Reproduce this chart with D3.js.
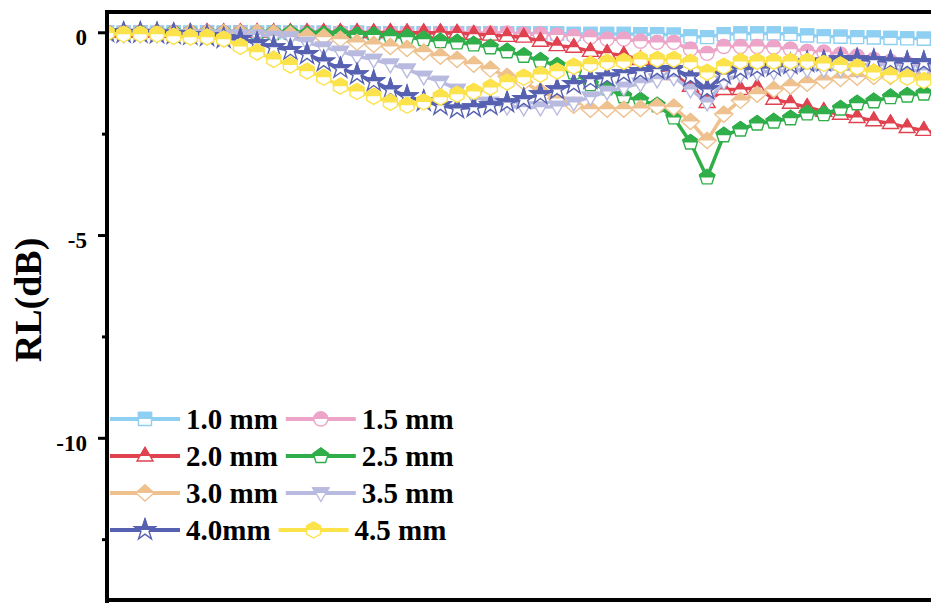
<!DOCTYPE html>
<html>
<head>
<meta charset="UTF-8">
<title>RL curves</title>
<script src="https://d3js.org/d3.v7.min.js"></script>
<style>
  body { margin: 0; background: #fff; }
  svg { display: block; font-family: "Liberation Serif", "Times New Roman", serif; font-weight: bold; }
</style>
</head>
<body>
<svg id="chart"></svg>
<script>
const width = 931, height = 603;

// sample index along the x axis (axis itself is cut off in the picture)
const points = d3.range(51);

const rl10 = [0, -0.01, 0, -0.01, 0, -0.01, 0, -0.01, 0, -0.01,
  0, -0.01, -0.01, -0.01, -0.02, -0.01, -0.02, -0.02, -0.02, -0.02,
  -0.02, -0.02, -0.03, -0.02, -0.03, -0.03, -0.03, -0.03, -0.04, -0.04,
  -0.04, -0.04, -0.05, -0.05, -0.06, -0.1, -0.12, -0.05, -0.03, -0.03,
  -0.03, -0.04, -0.08, -0.1, -0.11, -0.12, -0.13, -0.14, -0.15, -0.16, -0.17];
const rl15 = [0, 0, 0, -0.01, 0, -0.01, 0, -0.01, 0, -0.01,
  -0.01, -0.01, -0.01, -0.01, -0.01, -0.02, -0.02, -0.02, -0.02, -0.02,
  -0.02, -0.02, -0.02, -0.02, -0.02, -0.05, -0.05, -0.07, -0.1, -0.12,
  -0.17, -0.17, -0.22, -0.25, -0.25, -0.42, -0.52, -0.35, -0.35, -0.35,
  -0.37, -0.42, -0.47, -0.49, -0.54, -0.59, -0.67, -0.72, -0.77, -0.81, -0.86];
const rl20 = [0, 0, 0, 0, 0, 0, 0, 0, 0, 0,
  0, 0, 0, 0, 0, 0, -0.01, 0, -0.01, -0.01,
  -0.01, -0.02, -0.05, -0.07, -0.1, -0.12, -0.22, -0.33, -0.37, -0.47,
  -0.52, -0.57, -0.67, -0.84, -1.04, -1.33, -1.73, -1.41, -1.41, -1.36,
  -1.65, -1.75, -1.85, -1.95, -2.02, -2.1, -2.18, -2.25, -2.35, -2.42, -2.5];
const rl25 = [0, -0.01, -0.01, -0.01, -0.01, -0.01, -0.02, -0.02, -0.02, -0.02,
  -0.02, -0.02, -0.05, -0.05, -0.05, -0.07, -0.07, -0.1, -0.12, -0.17,
  -0.22, -0.25, -0.3, -0.37, -0.47, -0.58, -0.7, -0.82, -0.99, -1.28,
  -1.38, -1.58, -1.68, -1.8, -2.1, -2.72, -3.58, -2.54, -2.4, -2.25,
  -2.2, -2.12, -2.0, -2.02, -1.88, -1.75, -1.7, -1.6, -1.56, -1.51, -1.48];
const rl30 = [0, 0, -0.01, 0, -0.01, 0, -0.01, -0.01, -0.01, -0.01,
  -0.02, -0.05, -0.1, -0.12, -0.17, -0.25, -0.3, -0.35, -0.4, -0.49,
  -0.59, -0.67, -0.79, -0.91, -1.09, -1.23, -1.46, -1.63, -1.8, -1.9,
  -1.9, -1.9, -1.88, -1.83, -1.85, -2.2, -2.67, -2.02, -1.68, -1.53,
  -1.41, -1.33, -1.26, -1.19, -1.14, -1.11, -1.09, -1.09, -1.09, -1.06, -1.06];
const rl35 = [-0.05, -0.05, -0.05, -0.05, -0.07, -0.07, -0.07, -0.08, -0.07, -0.07,
  -0.1, -0.12, -0.25, -0.37, -0.47, -0.59, -0.67, -0.79, -0.91, -1.09,
  -1.21, -1.41, -1.58, -1.73, -1.83, -1.85, -1.85, -1.83, -1.73, -1.6,
  -1.46, -1.36, -1.26, -1.16, -1.11, -1.41, -1.73, -1.21, -1.04, -0.99,
  -0.96, -0.94, -0.91, -0.91, -0.91, -0.91, -0.91, -0.91, -0.94, -0.94, -0.96];
const rl40 = [0, -0.02, -0.02, -0.03, -0.05, -0.07, -0.1, -0.15, -0.17, -0.27,
  -0.37, -0.44, -0.54, -0.72, -0.89, -1.04, -1.21, -1.41, -1.58, -1.7,
  -1.8, -1.88, -1.85, -1.8, -1.73, -1.65, -1.53, -1.41, -1.28, -1.16,
  -1.09, -1.01, -0.96, -0.91, -0.91, -1.09, -1.41, -1.04, -0.91, -0.86,
  -0.84, -0.79, -0.74, -0.72, -0.67, -0.67, -0.69, -0.72, -0.74, -0.74, -0.77];
const rl45 = [-0.02, -0.05, -0.05, -0.05, -0.1, -0.12, -0.12, -0.17, -0.35, -0.49,
  -0.67, -0.81, -0.96, -1.11, -1.33, -1.46, -1.58, -1.73, -1.8, -1.72,
  -1.6, -1.53, -1.46, -1.36, -1.23, -1.11, -1.04, -0.96, -0.84, -0.79,
  -0.74, -0.72, -0.67, -0.67, -0.67, -0.74, -0.99, -0.84, -0.72, -0.72,
  -0.72, -0.72, -0.72, -0.77, -0.81, -0.86, -0.99, -1.06, -1.11, -1.19, -1.23];

const seriesNames = ["1.0 mm", "1.5 mm", "2.0 mm", "2.5 mm", "3.0 mm", "3.5 mm", "4.0mm", "4.5 mm"];
const seriesValues = [rl10, rl15, rl20, rl25, rl30, rl35, rl40, rl45];
const seriesColors = ["#8ecff2", "#eca5c8", "#e0434f", "#2fae49", "#eec18e", "#b8badf", "#5761b1", "#fce24b"];
const seriesShapes = ["square", "circle", "triangle", "pentagon", "diamond", "triangleDown", "star", "hexagon"];

const yTicks = [0, -5, -10];
const yMinorTicks = [-2.5, -7.5, -12.5];

const svg = d3.select("#chart")
    .attr("width", width)
    .attr("height", height);

const plotLeft = 107, plotTop = 12, plotBottom = 600;

const x = d3.scaleLinear().domain([0, 50]).range([plotLeft, 940.5]);
const y = d3.scaleLinear().domain([0.5, -14]).range([plotTop, plotBottom]);

function poly(pts) {
    return "M" + pts.map(p => p[0].toFixed(2) + "," + p[1].toFixed(2)).join("L") + "Z";
}
function regular(n, r) {
    return poly(d3.range(n).map(k => {
        const a = -Math.PI / 2 + k * 2 * Math.PI / n;
        return [r * Math.cos(a), r * Math.sin(a)];
    }));
}
function shapePath(type) {
    switch (type) {
        case "square": return "M-6.5,-6.5H6.5V6.5H-6.5Z";
        case "circle": return d3.symbol(d3.symbolCircle, Math.PI * 7 * 7)();
        case "triangle": return poly([[0, -8.5], [8, 5], [-8, 5]]);
        case "triangleDown": return poly([[0, 8.5], [8, -5], [-8, -5]]);
        case "diamond": return poly([[0, -8], [9, 0], [0, 8], [-9, 0]]);
        case "pentagon": return regular(5, 8);
        case "hexagon": return regular(6, 8);
        case "star": return d3.symbol(d3.symbolStar, 135)();
    }
}

const defs = svg.append("defs");
defs.append("clipPath").attr("id", "halfTop")
    .attr("clipPathUnits", "userSpaceOnUse")
    .append("rect").attr("x", -12).attr("y", -12).attr("width", 24).attr("height", 12);
defs.append("clipPath").attr("id", "plotClip")
    .append("rect").attr("x", plotLeft).attr("y", plotTop)
    .attr("width", width - plotLeft).attr("height", plotBottom - plotTop);

// one half-filled marker per series
seriesShapes.forEach((s, i) => {
    const g = defs.append("g").attr("id", "m" + i);
    const d = shapePath(s);
    g.append("path").attr("d", d)
        .attr("fill", "#fff").attr("stroke", seriesColors[i]).attr("stroke-width", 1.4);
    g.append("path").attr("d", d)
        .attr("fill", seriesColors[i]).attr("stroke", seriesColors[i]).attr("stroke-width", 1.4)
        .attr("clip-path", "url(#halfTop)");
});

const line = d3.line()
    .x((d, i) => x(points[i]))
    .y(d => y(d));

const plot = svg.append("g").attr("clip-path", "url(#plotClip)");

seriesValues.forEach((vals, i) => {
    const g = plot.append("g");
    g.append("path")
        .datum(vals)
        .attr("d", line)
        .attr("fill", "none")
        .attr("stroke", seriesColors[i])
        .attr("stroke-width", 3.5)
        .attr("stroke-linejoin", "round");
    g.selectAll("use")
        .data(vals)
        .join("use")
        .attr("href", "#m" + i)
        .attr("transform", (d, k) => `translate(${x(points[k])},${y(d)})`);
});

// y axis
const yAxis = svg.append("g")
    .attr("transform", `translate(${plotLeft},0)`)
    .call(d3.axisLeft(y).tickValues(yTicks).tickSize(9).tickPadding(11).tickFormat(d => String(d)));
yAxis.select(".domain").remove();
yAxis.selectAll(".tick line").attr("stroke", "#000").attr("stroke-width", 3);
yAxis.selectAll(".tick text")
    .attr("dy", "0.55em")
    .attr("fill", "#000")
    .style("font-size", "23px")
    .style("font-family", "'Liberation Serif', 'Times New Roman', serif")
    .style("font-weight", "bold");

const yMinor = svg.append("g")
    .attr("transform", `translate(${plotLeft},0)`)
    .call(d3.axisLeft(y).tickValues(yMinorTicks).tickSize(5).tickFormat(""));
yMinor.select(".domain").remove();
yMinor.selectAll(".tick line").attr("stroke", "#000").attr("stroke-width", 3);

// frame (left, top and bottom; right side is cut off)
svg.append("line").attr("x1", plotLeft).attr("x2", plotLeft)
    .attr("y1", plotTop - 2).attr("y2", height)
    .attr("stroke", "#000").attr("stroke-width", 4);
svg.append("line").attr("x1", plotLeft - 2).attr("x2", width)
    .attr("y1", plotTop).attr("y2", plotTop)
    .attr("stroke", "#000").attr("stroke-width", 4);
svg.append("line").attr("x1", plotLeft - 2).attr("x2", width)
    .attr("y1", plotBottom).attr("y2", plotBottom)
    .attr("stroke", "#000").attr("stroke-width", 4);

svg.append("text")
    .attr("transform", "translate(41,300) rotate(-90)")
    .attr("text-anchor", "middle")
    .style("font-size", "38px")
    .text("RL(dB)");

// legend, two entries per row
const legend = svg.append("g");
const rowY = [419, 456, 493, 530];
let nextX = 110;
seriesNames.forEach((name, i) => {
    const row = Math.floor(i / 2), col = i % 2;
    const x0 = col === 0 ? 110 : nextX;
    const cy = rowY[row];
    const g = legend.append("g");
    g.append("line").attr("x1", x0).attr("x2", x0 + 70)
        .attr("y1", cy).attr("y2", cy)
        .attr("stroke", seriesColors[i]).attr("stroke-width", 4);
    g.append("use").attr("href", "#m" + i)
        .attr("transform", `translate(${x0 + 35},${cy})`);
    const t = g.append("text")
        .attr("x", x0 + 76).attr("y", cy).attr("dy", "0.35em")
        .style("font-size", "29px")
        .text(name);
    if (col === 0) nextX = x0 + 76 + t.node().getComputedTextLength() + 8;
});
</script>
</body>
</html>
